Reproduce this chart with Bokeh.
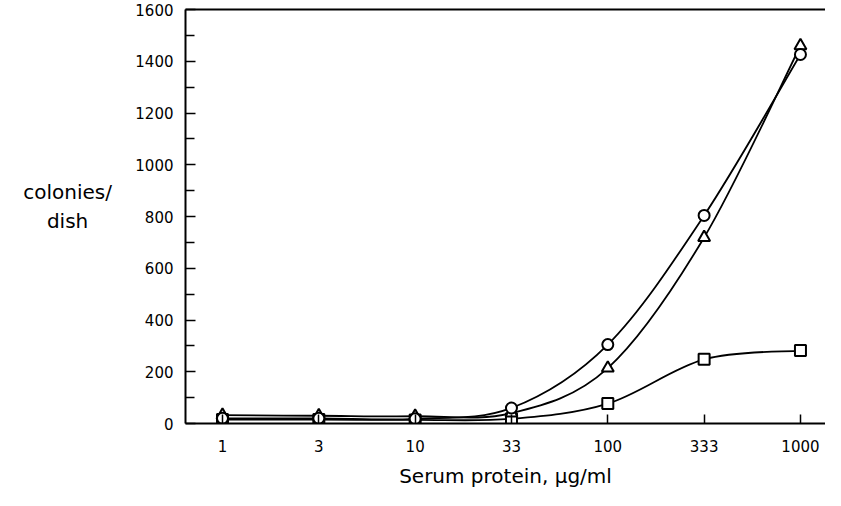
from bokeh.plotting import figure
from bokeh.models import (Range1d, FixedTicker, LinearAxis)
from bokeh.layouts import row
from bokeh.core.properties import value
from bokeh.embed import file_html
from bokeh.resources import INLINE
import numpy as np

# ---- data ----
serum_protein = ["1", "3", "10", "33", "100", "333", "1000"]
circles = [20, 20, 18, 60, 305, 804, 1426]
triangles = [32, 30, 28, 40, 214, 719, 1460]
squares = [15, 15, 14, 18, 77, 248, 282]
y_ticks = [0, 200, 400, 600, 800, 1000, 1200, 1400, 1600]
x_title = "Serum protein, μg/ml"
y_title = "colonies/\ndish"

xpos = list(range(len(serum_protein)))

FONT = "DejaVu Sans"
H = 490
LEFT_W = 122

# ---- left panel holding the horizontal y title ----
pl = figure(width=LEFT_W, height=H, output_backend="svg", toolbar_location=None,
            x_range=Range1d(0, 1), y_range=Range1d(0, 1),
            min_border=0, x_axis_location=None, y_axis_location=None)
pl.outline_line_color = None
pl.grid.visible = False
pl.text(x=[0.55], y=[0.525], text=[y_title], text_align="center",
        text_baseline="middle", text_font=value(FONT), text_font_size="20px",
        text_color="black", text_line_height=1.2)

# ---- main plot ----
p = figure(width=825 - LEFT_W, height=H, output_backend="svg", toolbar_location=None,
           x_range=Range1d(-0.384, 6.26), y_range=Range1d(0, 1600),
           min_border_left=185 - LEFT_W, min_border_right=0, min_border_top=9,
           min_border_bottom=67)
p.outline_line_color = None
p.grid.visible = False
p.background_fill_color = "white"
p.border_fill_color = "white"

# x axis
xa = p.xaxis[0]
xa.ticker = FixedTicker(ticks=xpos)
xa.major_label_overrides = {i: s for i, s in zip(xpos, serum_protein)}
xa.major_tick_in = 9
xa.major_tick_out = 0
xa.minor_tick_line_color = None
xa.axis_line_width = 2
xa.major_tick_line_width = 1.5
xa.major_label_standoff = 16
xa.major_label_text_font = FONT
xa.major_label_text_font_size = "15px"
xa.major_label_text_color = "black"
xa.axis_label = x_title
xa.axis_label_text_font = FONT
xa.axis_label_text_font_style = "normal"
xa.axis_label_text_font_size = "20px"
xa.axis_label_text_color = "black"
xa.axis_label_standoff = 9

# y axis
ya = p.yaxis[0]
ya.ticker = FixedTicker(ticks=y_ticks,
                        minor_ticks=[v + 100 for v in y_ticks[:-1]])
ya.major_tick_in = 10
ya.major_tick_out = 0
ya.minor_tick_in = 9
ya.minor_tick_out = 0
ya.axis_line_width = 2
ya.major_tick_line_width = 1.5
ya.minor_tick_line_width = 1.5
ya.major_label_standoff = 12
ya.major_label_text_font = FONT
ya.major_label_text_font_size = "15px"
ya.major_label_text_color = "black"

# top frame line
top = LinearAxis(ticker=FixedTicker(ticks=[]), major_tick_out=0, major_tick_in=0,
                 minor_tick_out=0, minor_tick_in=0, axis_line_width=2,
                 major_label_text_font_size="0px")
p.add_layout(top, "above")


def smooth(xs, ys):
    xs = np.asarray(xs, float)
    ys = np.asarray(ys, float)
    n = len(xs)
    x0, y0, x1, y1, cx0, cy0, cx1, cy1 = ([] for _ in range(8))
    for i in range(n - 1):
        pxm = xs[i - 1] if i > 0 else xs[i]
        pym = ys[i - 1] if i > 0 else ys[i]
        pxp = xs[i + 2] if i + 2 < n else xs[i + 1]
        pyp = ys[i + 2] if i + 2 < n else ys[i + 1]
        x0.append(xs[i]); y0.append(ys[i])
        x1.append(xs[i + 1]); y1.append(ys[i + 1])
        cx0.append(xs[i] + (xs[i + 1] - pxm) / 6)
        cy0.append(ys[i] + (ys[i + 1] - pym) / 6)
        cx1.append(xs[i + 1] - (pxp - xs[i]) / 6)
        cy1.append(ys[i + 1] - (pyp - ys[i]) / 6)
    return dict(x0=x0, y0=y0, x1=x1, y1=y1, cx0=cx0, cy0=cy0, cx1=cx1, cy1=cy1)


for ys in (squares, triangles, circles):
    p.bezier(line_color="black", line_width=1.8, **smooth(xpos, ys))

p.scatter(xpos, squares, marker="square", size=11, fill_color="white",
          line_color="black", line_width=2)
p.scatter(xpos, triangles, marker="triangle", size=12, fill_color="white",
          line_color="black", line_width=2)
p.scatter(xpos, circles, marker="circle", size=11, fill_color="white",
          line_color="black", line_width=2)

layout = row(pl, p, spacing=0)
open("out.html", "w").write(file_html(layout, INLINE))
